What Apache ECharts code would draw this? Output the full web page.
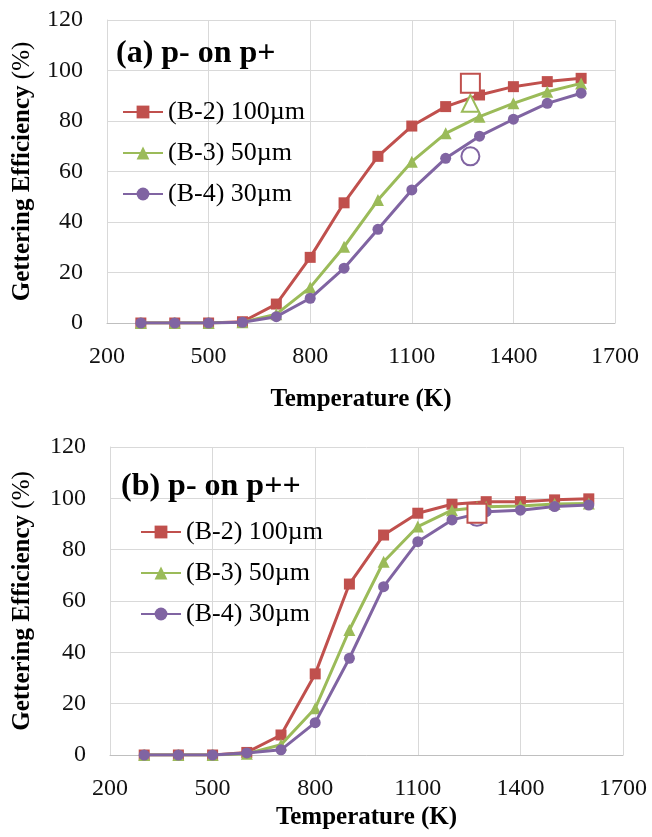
<!DOCTYPE html>
<html>
<head>
<meta charset="utf-8">
<script src="https://cdn.jsdelivr.net/npm/echarts@6/dist/echarts.min.js"></script>
<style>
html,body{margin:0;padding:0;background:#fff;}
#chart{width:652px;height:837px;}
</style>
</head>
<body>
<div id="chart"></div>
<script>
// ---- data ----
const temperatures = [300, 400, 500, 600, 700, 800, 900, 1000, 1100, 1200, 1300, 1400, 1500, 1600];
const seriesNames = ['(B-2) 100µm', '(B-3) 50µm', '(B-4) 30µm'];
const panelTitles = ['(a) p- on p+', '(b) p- on p++'];

// panel (a) p- on p+
const a_B2 = [0, 0, 0, 0.5, 7.5, 26, 47.6, 66, 78, 85.7, 90.3, 93.6, 95.6, 96.9];
const a_B3 = [0, 0, 0, 0.3, 3.5, 14.1, 30.2, 48.7, 63.9, 75.1, 81.7, 87, 91.6, 94.9];
const a_B4 = [0, 0, 0, 0.3, 2.5, 9.8, 21.7, 37.1, 52.7, 65.2, 74, 80.7, 87, 91];

// panel (b) p- on p++
const b_B2 = [0, 0, 0, 1, 7.8, 31.6, 66.6, 85.7, 94.2, 97.7, 98.7, 98.7, 99.4, 99.8];
const b_B3 = [0, 0, 0, 0.5, 4, 18.2, 48.7, 75.3, 89, 95.4, 96.7, 97, 97.8, 98];
const b_B4 = [0, 0, 0, 0.8, 2, 12.6, 37.7, 65.6, 83.1, 91.6, 94.8, 95.4, 96.8, 97.4];

// hollow reference markers at 1273 K
const hollowT = 1273;
const a_hollow = [95, 87, 66];   // B-2, B-3, B-4
const b_hollow = [94.2, 94.8, 92.8];

// axis ticks
const xMin = 200, xMax = 1700, xStep = 300;
const yMin = 0, yMax = 120, yStep = 20;

// ---- styling ----
const colors = ['#C0504D', '#9BBB59', '#8064A2'];
const lineSymbols = ['rect', 'triangle', 'circle'];
const lineSymbolSizes = [11, 12, 11];
const hollowSymbols = ['emptyRect', 'emptyTriangle', 'emptyCircle'];
const hollowSizes = [19, 17, 18];
const FONT = '"Liberation Serif", "Times New Roman", serif';

function pairs(vals) { return temperatures.map((t, i) => [t, vals[i]]); }

const panels = [
  { data: [a_B2, a_B3, a_B4], hollow: a_hollow },
  { data: [b_B2, b_B3, b_B4], hollow: b_hollow }
];

const grids = [
  { left: 107, top: 20, width: 508, height: 303 },
  { left: 110, top: 447, width: 513, height: 308 }
];
const xNameGaps = [64, 50];
const yNameGaps = [72, 75];

const series = [];
panels.forEach((p, gi) => {
  p.data.forEach((vals, si) => {
    series.push({
      type: 'line',
      name: seriesNames[si],
      xAxisIndex: gi, yAxisIndex: gi,
      data: pairs(vals),
      symbol: lineSymbols[si],
      symbolSize: lineSymbolSizes[si],
      showSymbol: true,
      lineStyle: { color: colors[si], width: 3 },
      itemStyle: { color: colors[si] },
      z: 2 + si
    });
  });
  p.hollow.forEach((v, si) => {
    series.push({
      type: 'scatter',
      name: 'hollow' + gi + si,
      xAxisIndex: gi, yAxisIndex: gi,
      data: [[hollowT, v]],
      symbol: hollowSymbols[si],
      symbolSize: hollowSizes[si],
      itemStyle: { color: colors[si], borderColor: colors[si], borderWidth: 2.2, opacity: 1 },
      z: 10 - si
    });
  });
});

const xAxes = grids.map((g, i) => ({
  type: 'value', gridIndex: i, min: xMin, max: xMax, interval: xStep,
  name: 'Temperature (K)', nameLocation: 'middle', nameGap: xNameGaps[i],
  nameTextStyle: { fontFamily: FONT, fontWeight: 'bold', fontSize: 25, color: '#000' },
  axisLine: { show: true, lineStyle: { color: '#bfbfbf', width: 1 } },
  axisTick: { show: false },
  axisLabel: { fontFamily: FONT, fontSize: 24, color: '#111', margin: 22, formatter: v => String(v) },
  splitLine: { show: true, lineStyle: { color: '#d9d9d9', width: 1 } }
}));

const yAxes = grids.map((g, i) => ({
  type: 'value', gridIndex: i, min: yMin, max: yMax, interval: yStep,
  name: '{b|Gettering Efficiency }{r|(%)}', nameLocation: 'middle', nameGap: yNameGaps[i],
  nameTextStyle: {
    fontFamily: FONT, fontSize: 25, color: '#000',
    rich: {
      b: { fontFamily: FONT, fontSize: 25, fontWeight: 'bold', color: '#000' },
      r: { fontFamily: FONT, fontSize: 25, fontWeight: 'normal', color: '#000' }
    }
  },
  axisLine: { show: true, lineStyle: { color: '#d9d9d9', width: 1 } },
  axisTick: { show: false },
  axisLabel: { fontFamily: FONT, fontSize: 24, color: '#111', margin: 24, formatter: v => String(v) },
  splitLine: { show: true, lineStyle: { color: '#d9d9d9', width: 1 } }
}));

const option = {
  animation: false,
  backgroundColor: '#fff',
  title: [
    { text: panelTitles[0], left: 111, top: 33,
      textStyle: { fontFamily: FONT, fontWeight: 'bold', fontSize: 32, color: '#000' } },
    { text: panelTitles[1], left: 116, top: 466,
      textStyle: { fontFamily: FONT, fontWeight: 'bold', fontSize: 32, color: '#000' } }
  ],
  legend: [
    { data: seriesNames, orient: 'vertical', left: 117, top: 94, itemWidth: 40, itemHeight: 16, itemGap: 15,
      textStyle: { fontFamily: FONT, fontSize: 26, color: '#000', lineHeight: 26 }, selectedMode: false },
    { data: seriesNames, orient: 'vertical', left: 135, top: 514, itemWidth: 40, itemHeight: 16, itemGap: 15,
      textStyle: { fontFamily: FONT, fontSize: 26, color: '#000', lineHeight: 26 }, selectedMode: false }
  ],
  grid: grids,
  xAxis: xAxes,
  yAxis: yAxes,
  series: series
};

const chart = echarts.init(document.getElementById('chart'), null, { renderer: 'canvas' });
chart.setOption(option);
</script>
</body>
</html>
